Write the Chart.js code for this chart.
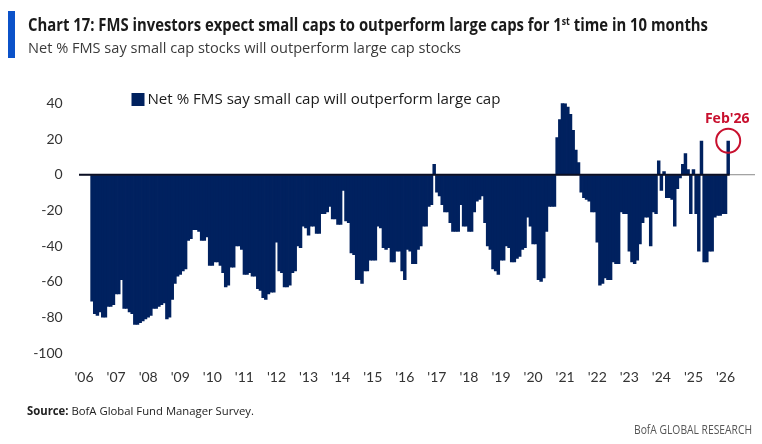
<!DOCTYPE html>
<html>
<head>
<meta charset="utf-8">
<script src="https://cdn.jsdelivr.net/npm/chart.js@4.4.1/dist/chart.umd.min.js"></script>
<style>
  html, body { margin: 0; padding: 0; background: #fff; overflow: hidden; }
  #wrap { position: relative; width: 762px; height: 444px; overflow: hidden; background: #fff; }
  #chartBox { position: absolute; left: 0; top: 0; width: 762px; height: 444px; }
  .accent { position: absolute; left: 8px; top: 11px; width: 7px; height: 47px; background: #0B52C9; }
  .t { position: absolute; white-space: nowrap; display: inline-block; transform-origin: 0 50%; }
  #title { left: 28px; top: 13px; font: 700 17px 'Open Sans', sans-serif; color: #1a1a1a; line-height: 23px; }
  #title sup { font-size: 10px; line-height: 0; vertical-align: 6px; }
  #subtitle { left: 28px; top: 37px; font: 400 15px 'Open Sans', sans-serif; color: #3a3a3a; line-height: 20px; }
  #source { left: 27px; top: 403px; font: 400 11.5px 'Open Sans', sans-serif; color: #222; line-height: 16px; }
  #source b { font-weight: 700; }
  #brand { left: 634px; top: 422px; font: 400 12px 'Open Sans', sans-serif; color: #555; line-height: 16px; }
</style>
</head>
<body>
<div id="wrap">
  <div id="chartBox"><canvas id="c"></canvas></div>
  <div class="accent"></div>
  <div class="t" id="title" data-w="680">Chart 17: FMS investors expect small caps to outperform large caps for 1<sup>st</sup> time in 10 months</div>
  <div class="t" id="subtitle" data-w="433">Net % FMS say small cap stocks will outperform large cap stocks</div>
  <div class="t" id="source" data-w="227"><b>Source:</b> BofA Global Fund Manager Survey.</div>
  <div class="t" id="brand" data-w="118">BofA GLOBAL RESEARCH</div>
</div>
<script>
// ---- DATA ----
const years = [2006, 2007, 2008, 2009, 2010, 2011, 2012, 2013, 2014, 2015, 2016,
               2017, 2018, 2019, 2020, 2021, 2022, 2023, 2024, 2025, 2026];
const monthNames = ['Jan','Feb','Mar','Apr','May','Jun','Jul','Aug','Sep','Oct','Nov','Dec'];
const tickLabels = ["'06","'07","'08","'09","'10","'11","'12","'13","'14","'15","'16",
                    "'17","'18","'19","'20","'21","'22","'23","'24","'25","'26"];
const seriesName = 'Net % FMS say small cap will outperform large cap';
const firstMonth = 'Apr-06';
const lastMonth = 'Feb-26';
const axisEndMonth = 'Nov-26';
// Net % FMS: small caps will outperform large caps, Apr 2006 .. Feb 2026
const netSmallVsLarge = [
  -71, -78, -79, -77, -80, -80, -74, -74, -73, -67, -67, -59,   // Apr06-Mar07
  -75, -75, -77, -78, -84, -84, -83, -82, -81, -80, -79, -75,   // Apr07-Mar08
  -75, -74, -73, -72, -81, -80, -70, -61, -57, -56, -54, -53,   // Apr08-Mar09
  -37, -36, -31, -31, -32, -37, -37, -35, -51, -51, -49, -49,   // Apr09-Mar10
  -51, -55, -63, -62, -52, -52, -40, -40, -42, -56, -56, -55,   // Apr10-Mar11
  -57, -57, -64, -65, -69, -70, -67, -66, -66, -38, -54, -55,   // Apr11-Mar12
  -63, -63, -62, -55, -54, -40, -41, -29, -30, -34, -29, -29,   // Apr12-Mar13
  -33, -33, -22, -22, -21, -18, -25, -25, -28, -28,  -9, -26,   // Apr13-Mar14
  -27, -44, -45, -59, -59, -61, -54, -54, -48, -48, -48, -29,   // Apr14-Mar15
  -30, -41, -42, -41, -49, -49, -43, -43, -54, -59, -42, -43,   // Apr15-Mar16
  -50, -50, -42, -40, -29, -29, -18, -17,   6, -10, -12, -17,   // Apr16-Mar17
  -21, -21, -27, -32, -32, -32, -17, -29, -29, -32, -32, -21,   // Apr17-Mar18
  -15, -14, -12, -27, -40, -42, -53, -54, -56, -48, -48, -40,   // Apr18-Mar19
  -41, -49, -49, -47, -46, -42, -41, -24, -29, -39, -39, -59,   // Apr19-Mar20
  -60, -58, -32, -18, -18, -18,  21,  31,  41,  40,  38,  34,   // Apr20-Mar21
   25,  14,   7, -10, -13, -14, -15, -21, -21, -38, -62, -61,   // Apr21-Mar22
  -58, -59, -59, -49, -50, -50, -21, -22, -22, -43, -49, -50,   // Apr22-Mar23
  -48, -39, -27, -24, -24, -40, -21, -22,   8,  -9,   2, -13,   // Apr23-Mar24
  -13, -14, -29,  -8,  -2,   6,  12,   3, -22,   3, -22, -43,   // Apr24-Mar25
   19, -49, -49, -43, -43, -24, -23, -23, -22, -22,  19         // Apr25-Feb26
];

// ---- build categories (monthly) ----
const categories = [];
years.forEach(y => monthNames.forEach(m => categories.push(m + '-' + String(y).slice(2))));
const cats = categories.slice(0, categories.indexOf(axisEndMonth) + 1);
const startIdx = cats.indexOf(firstMonth);
const lastIdx = cats.indexOf(lastMonth);
const barData = cats.map((_, i) => (i >= startIdx && i <= lastIdx) ? netSmallVsLarge[i - startIdx] : null);

const NAVY = '#00215F';
const RED = '#C8102E';

const overlay = {
  id: 'overlay',
  afterDatasetsDraw(chart) {
    const { ctx, scales: { x, y } } = chart;
    const y0 = y.getPixelForValue(0);
    const lastX = x.getPixelForValue(lastIdx);
    ctx.save();
    // zero line
    ctx.strokeStyle = '#8a8a8a';
    ctx.lineWidth = 1;
    ctx.beginPath(); ctx.moveTo(79, y0); ctx.lineTo(755, y0); ctx.stroke();
    ctx.strokeStyle = '#0b0f24';
    ctx.lineWidth = 2;
    ctx.beginPath(); ctx.moveTo(79, y0); ctx.lineTo(lastX + 1.5, y0); ctx.stroke();

    // Feb'26 highlight
    const topY = y.getPixelForValue(barData[lastIdx]);
    ctx.strokeStyle = RED;
    ctx.lineWidth = 2;
    ctx.beginPath(); ctx.arc(lastX, topY, 12, 0, Math.PI * 2); ctx.stroke();
    ctx.fillStyle = RED;
    ctx.font = "700 14px 'Open Sans', sans-serif";
    ctx.textAlign = 'center';
    ctx.textBaseline = 'middle';
    ctx.fillText("Feb'26", lastX - 1, topY - 22);

    // legend
    ctx.fillStyle = NAVY;
    ctx.fillRect(131.5, 93, 13, 13);
    ctx.fillStyle = '#1a1a1a';
    ctx.textAlign = 'left';
    ctx.font = "400 15px 'Open Sans', sans-serif";
    const w = ctx.measureText(seriesName).width;
    const sx = 353 / w;
    ctx.translate(147.5, 100);
    ctx.scale(sx, 1);
    ctx.fillText(seriesName, 0, 0);
    ctx.restore();
  }
};

new Chart(document.getElementById('c'), {
  type: 'bar',
  data: {
    labels: cats,
    datasets: [{
      label: seriesName,
      data: barData,
      backgroundColor: NAVY,
      borderColor: NAVY,
      borderWidth: 0,
      barPercentage: 1.3,
      categoryPercentage: 1
    }]
  },
  options: {
    responsive: true,
    maintainAspectRatio: false,
    animation: false,
    layout: { padding: { top: 103.3, right: 8.4, bottom: 50.7, left: 0 } },
    plugins: { legend: { display: false }, tooltip: { enabled: false } },
    scales: {
      x: {
        grid: { display: true, drawOnChartArea: false, drawTicks: true, tickLength: 16,
                color: 'rgba(0,0,0,0)', tickColor: 'rgba(0,0,0,0)' },
        border: { display: false },
        ticks: {
          autoSkip: false, maxRotation: 0, minRotation: 0, padding: 0,
          color: '#333', font: { family: 'Lato', size: 14 },
          callback: (v, i) => (i % 12 === 0 ? tickLabels[i / 12] : '')
        },
        afterFit: s => { s.height = 40; }
      },
      y: {
        min: -100, max: 40,
        ticks: { stepSize: 20, padding: 20, color: '#333', font: { family: 'Lato', size: 14 } },
        grid: { display: false, drawTicks: false },
        border: { display: false },
        afterFit: s => { s.width = 82.7; }
      }
    }
  },
  plugins: [overlay]
});

// fit header/footer text widths
document.querySelectorAll('.t[data-w]').forEach(el => {
  const target = parseFloat(el.dataset.w);
  const w = el.getBoundingClientRect().width;
  if (w > 0) el.style.transform = 'scaleX(' + (target / w) + ')';
});
</script>
</body>
</html>
